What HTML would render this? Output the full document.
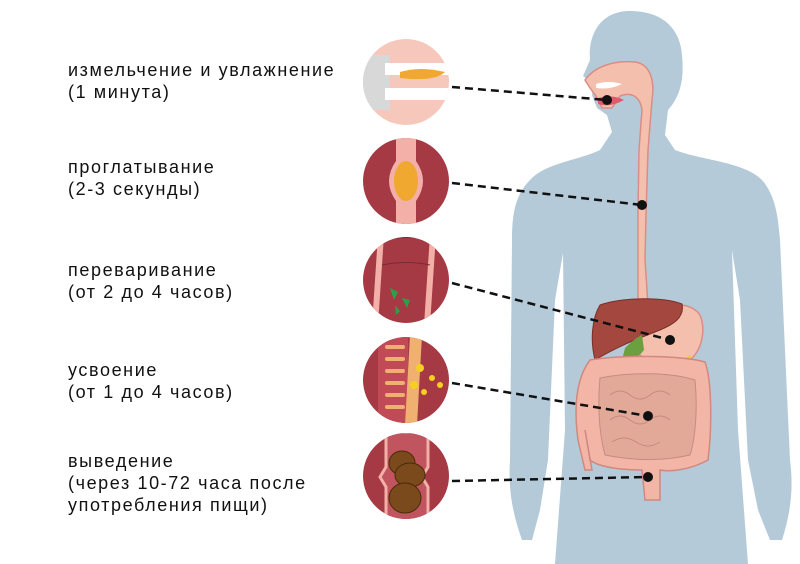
<!DOCTYPE html>
<html><head><meta charset="utf-8"><style>
html,body{margin:0;padding:0;background:#fff;}
body{width:800px;height:564px;overflow:hidden;position:relative;font-family:"Liberation Sans","DejaVu Sans",sans-serif;}
.t{position:absolute;left:68px;font-size:18px;line-height:22px;color:#111;letter-spacing:1.6px;}
svg{position:absolute;left:0;top:0;}
</style></head><body>
<svg width="800" height="564" viewBox="0 0 800 564">
<path fill="#b4cad8" d="M630 11 C600 11 588 35 590 60 L583 76 L593 84 L592 95 L597 108 L607 115 L612 132 L600 150 C580 160 545 163 530 180 C515 195 512 215 512 240 L510 460 C508 490 513 515 522 540 L532 540 L540 510 L548 460 L555 300 L563 253 L565 430 L555 564 L748 564 L738 430 L732 250 L740 300 L748 460 L758 510 L770 540 L782 540 C790 515 794 490 790 460 L780 240 C778 215 775 195 762 180 C745 162 700 160 675 150 L665 135 L668 110 C682 95 684 75 682 55 C680 28 662 11 630 11 Z"/>
<path fill="#f5bfae" stroke="#d98d85" stroke-width="1.5" d="M585 80 C595 66 615 60 635 62 C650 64 655 80 652 100 L648 150 L646 215 L645 260 L648 305 L638 305 L638 260 L638 210 L639 150 L642 110 C640 95 630 92 620 96 L612 108 L602 108 L596 96 L590 88 Z"/>
<path fill="#fff" d="M596 84 Q608 80 622 84 Q610 90 596 88 Z"/>
<path fill="#e05a6c" d="M598 98 Q612 94 624 100 Q610 108 598 104 Z"/>
<path fill="#f5bfae" stroke="#d98d85" stroke-width="1.5" d="M645 305 C665 305 690 300 700 315 C706 330 702 350 690 360 C672 368 650 365 640 355 C632 340 635 315 645 305 Z"/>
<path fill="#f0c830" d="M635 360 Q665 372 690 355 L692 362 Q665 378 635 368 Z"/>
<path fill="#a4473f" stroke="#7a2d28" stroke-width="1" d="M600 305 C620 298 660 296 682 304 C685 318 672 325 660 330 C640 338 620 345 595 360 C590 340 592 318 600 305 Z"/>
<path fill="#6aa040" d="M625 348 Q635 338 642 335 L644 350 Q635 362 622 360 Z"/>
<path fill="#f3b6a6" stroke="#d08880" stroke-width="1.5" d="M590 360 C620 355 680 355 705 362 C712 380 712 430 708 460 C690 470 670 472 660 470 L660 500 L645 500 L642 470 C625 470 600 468 590 460 L585 430 L592 470 L585 470 L578 440 C574 410 575 380 590 360 Z"/>
<path fill="#e2a898" stroke="#c98a80" stroke-width="1" d="M600 378 C630 372 670 372 695 380 C698 410 695 440 690 455 C660 462 630 460 605 455 C598 430 598 400 600 378 Z"/>
<g fill="none" stroke="#c98a80" stroke-width="1">
<path d="M610 395 q10 -8 20 0 q10 8 20 0 q10 -8 20 0"/><path d="M610 420 q10 -8 20 0 q10 8 20 0 q10 -8 20 0"/><path d="M612 442 q12 -8 24 0 q12 8 24 0"/>
</g>
<g stroke="#111" stroke-width="2.5" stroke-dasharray="8 5" fill="none">
<line x1="452" y1="87" x2="607" y2="100"/>
<line x1="452" y1="183" x2="642" y2="205"/>
<line x1="452" y1="283" x2="670" y2="340"/>
<line x1="452" y1="383" x2="648" y2="416"/>
<line x1="452" y1="481" x2="648" y2="477"/>
</g>
<g fill="#111"><circle cx="607" cy="100" r="5"/><circle cx="642" cy="205" r="5"/><circle cx="670" cy="340" r="5"/><circle cx="648" cy="416" r="5"/><circle cx="648" cy="477" r="5"/></g>
<defs><clipPath id="c1"><circle cx="406" cy="82" r="43"/></clipPath><clipPath id="c2"><circle cx="406" cy="181" r="43"/></clipPath><clipPath id="c3"><circle cx="406" cy="280" r="43"/></clipPath><clipPath id="c4"><circle cx="406" cy="380" r="43"/></clipPath><clipPath id="c5"><circle cx="406" cy="476" r="43"/></clipPath></defs>
<g clip-path="url(#c1)"><rect x="360" y="38" width="92" height="90" fill="#f6c8bc"/><rect x="360" y="55" width="30" height="55" fill="#d8d8d8"/><path d="M385 63 h65 v12 h-65z M385 88 h65 v12 h-65z" fill="#fff"/><path d="M400 72 q20 -6 45 0 q-10 10 -45 6z" fill="#f0a830"/></g>
<g clip-path="url(#c2)"><rect x="360" y="136" width="92" height="90" fill="#a53a45"/><path d="M396 136 h20 v25 q14 20 0 40 v25 h-20 v-25 q-14 -20 0 -40z" fill="#f3b0a8"/><ellipse cx="406" cy="181" rx="12" ry="20" fill="#f0a830"/></g>
<g clip-path="url(#c3)"><rect x="360" y="235" width="92" height="90" fill="#a53a45"/><path d="M378 235 h6 l-6 90 h-6z M430 235 h6 l-6 90 h-6z" fill="#f3b0a8"/><path d="M384 240 q25 -5 48 0 M382 265 q25 -5 48 0" stroke="#7a2a35" fill="none"/><path d="M390 288 l8 4 -4 8z M402 298 l8 2 -3 8z M395 305 l5 6 -4 4z" fill="#2aa048"/></g>
<g clip-path="url(#c4)"><rect x="360" y="335" width="92" height="90" fill="#a53a45"/><rect x="378" y="335" width="30" height="90" fill="#c04a55"/><g fill="#f0b070"><rect x="385" y="345" width="20" height="4" rx="2"/><rect x="385" y="357" width="20" height="4" rx="2"/><rect x="385" y="369" width="20" height="4" rx="2"/><rect x="385" y="381" width="20" height="4" rx="2"/><rect x="385" y="393" width="20" height="4" rx="2"/><rect x="385" y="405" width="20" height="4" rx="2"/></g><path d="M410 335 h12 l-5 90 h-12z" fill="#f0b070"/><g fill="#f5d020"><circle cx="420" cy="368" r="4"/><circle cx="432" cy="378" r="3"/><circle cx="414" cy="385" r="4"/><circle cx="424" cy="392" r="3"/><circle cx="440" cy="385" r="3"/></g></g>
<g clip-path="url(#c5)"><rect x="360" y="432" width="92" height="90" fill="#a53a45"/><path d="M386 432 h42 v35 l-6 10 6 10 v35 h-42 v-35 l-6 -10 6 -10z" fill="#c05560" stroke="#f3b0a8" stroke-width="3"/><ellipse cx="402" cy="463" rx="13" ry="12" fill="#7a4a1c" stroke="#4a2a08"/><ellipse cx="410" cy="475" rx="15" ry="12" fill="#7a4a1c" stroke="#4a2a08"/><ellipse cx="405" cy="498" rx="16" ry="15" fill="#7a4a1c" stroke="#4a2a08"/></g>
</svg>
<div class="t" style="top:59px">измельчение и увлажнение<br>(1 минута)</div>
<div class="t" style="top:156px">проглатывание<br>(2-3 секунды)</div>
<div class="t" style="top:259px">переваривание<br>(от 2 до 4 часов)</div>
<div class="t" style="top:359px">усвоение<br>(от 1 до 4 часов)</div>
<div class="t" style="top:450px">выведение<br>(через 10-72 часа после<br>употребления пищи)</div>
</body></html>
